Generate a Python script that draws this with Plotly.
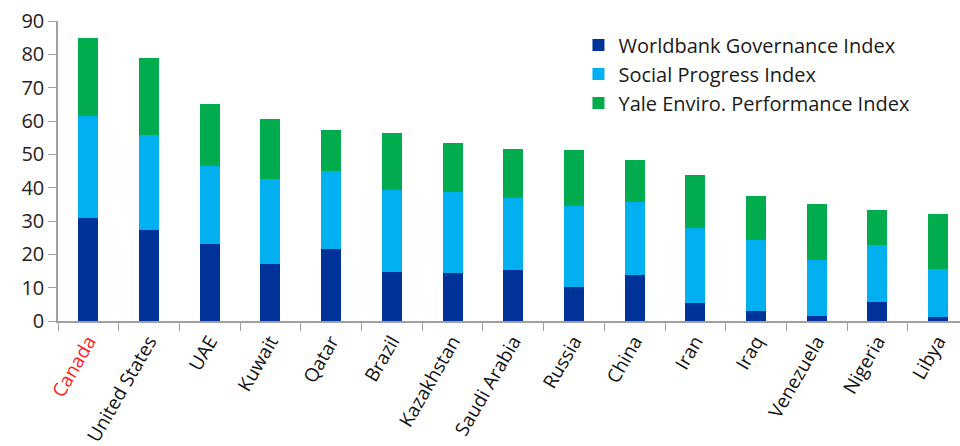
import plotly.graph_objects as go

countries = ["Canada", "United States", "UAE", "Kuwait", "Qatar", "Brazil", "Kazakhstan",
             "Saudi Arabia", "Russia", "China", "Iran", "Iraq", "Venezuela", "Nigeria", "Libya"]
# cumulative tops
worldbank = [31.0, 27.3, 23.1, 17.0, 21.5, 14.7, 14.3, 15.2, 10.3, 13.8, 5.3, 3.1, 1.6, 5.8, 1.1]
social_top = [61.4, 55.8, 46.5, 42.7, 44.9, 39.3, 38.6, 36.8, 34.4, 35.7, 27.8, 24.3, 18.2, 22.8, 15.5]
yale_top = [85.0, 78.8, 65.0, 60.6, 57.3, 56.5, 53.5, 51.6, 51.3, 48.2, 43.8, 37.4, 35.0, 33.2, 32.0]

social = [round(s - w, 2) for s, w in zip(social_top, worldbank)]
yale = [round(y - s, 2) for y, s in zip(yale_top, social_top)]

tick_text = ["<span style='color:#FF2020'>Canada</span>"] + countries[1:]

FONT = "Open Sans"
fig = go.Figure()
series = [
    ("Worldbank Governance Index", worldbank, "#003399"),
    ("Social Progress Index", social, "#00B0F0"),
    ("Yale Enviro. Performance Index", yale, "#00AC4E"),
]
for name, vals, col in series:
    fig.add_trace(go.Bar(x=countries, y=vals, name=name, marker=dict(color=col, line=dict(width=0)),
                         width=0.33))

fig.update_layout(
    barmode="stack",
    width=960, height=446,
    margin=dict(l=58, r=0, t=21, b=125),
    paper_bgcolor="white", plot_bgcolor="white",
    font=dict(family=FONT, color="#1a1a1a", size=19),
    showlegend=True,
    legend=dict(x=0.577, y=0.985, xanchor="left", yanchor="top", traceorder="normal",
                font=dict(family=FONT, size=20, color="#1a1a1a"), bgcolor="rgba(0,0,0,0)",
                tracegroupgap=0, itemwidth=30),
)
fig.update_xaxes(
    type="category", categoryorder="array", categoryarray=countries,
    tickmode="array", tickvals=countries, ticktext=tick_text,
    range=[-0.5, 14.36], tickson="boundaries", ticks="outside", ticklen=8, tickcolor="#A0A0A0",
    showline=True, linecolor="#A0A0A0", linewidth=1.5, tickangle=-60, automargin=False,
    tickfont=dict(family=FONT, size=19, color="#111111"), showgrid=False,
)
fig.update_yaxes(
    range=[0, 90], tickmode="linear", tick0=0, dtick=10, automargin=False,
    ticks="outside", ticklen=8, tickcolor="#A0A0A0", showline=True, linecolor="#A0A0A0", linewidth=1.5,
    showgrid=False, zeroline=False, tickfont=dict(family=FONT, size=20, color="#2a2020"),
)
fig.write_html("out.html")
